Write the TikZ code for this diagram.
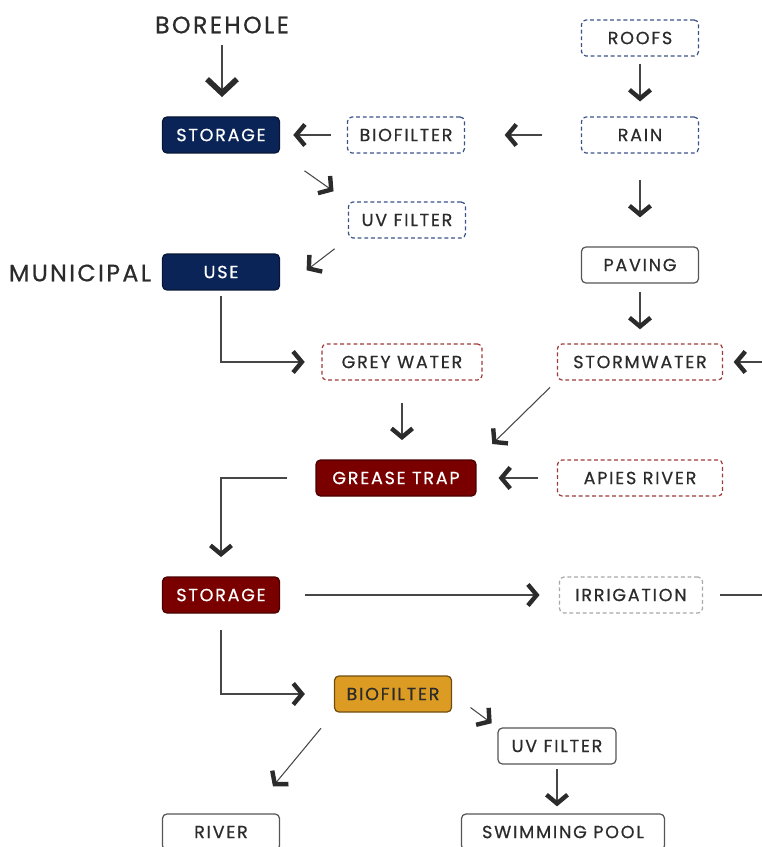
\documentclass[tikz,border=0pt]{standalone}
\usepackage{fontspec}
\setmainfont[LetterSpace=10, FakeBold=0.6]{Poppins}
\usepackage{xcolor}
\usepackage{tikz}
\usetikzlibrary{arrows.meta, positioning, calc}
\definecolor{mynavy}{RGB}{10,36,88}
\definecolor{myblue}{RGB}{58,82,136}
\definecolor{mywine}{RGB}{122,0,0}
\definecolor{myred}{RGB}{158,58,58}
\definecolor{myamber}{RGB}{220,155,34}
\definecolor{mygrey}{RGB}{168,168,168}
\definecolor{myplain}{RGB}{85,85,85}
\definecolor{mytext}{RGB}{43,43,43}
\definecolor{myshaft}{RGB}{70,70,70}
\tikzset{
  box/.style={rectangle, minimum width=2.34cm, minimum height=0.72cm,
    inner sep=0pt, rounded corners=2.5pt, line width=0.7pt, text=mytext,
    font=\fontsize{10pt}{12pt}\selectfont},
  navybox/.style={box, fill=mynavy, draw=mynavy!60!black, text=white},
  winebox/.style={box, fill=mywine, draw=mywine!60!black, text=white},
  amberbox/.style={box, fill=myamber, draw=myamber!50!black},
  bluebox/.style={box, draw=myblue, dash pattern=on 2.2pt off 1.6pt},
  redbox/.style={box, draw=myred, dash pattern=on 2.2pt off 1.6pt},
  greybox/.style={box, draw=mygrey, dash pattern=on 2.2pt off 1.6pt},
  plainbox/.style={box, draw=myplain},
  title/.style={text=mytext, font=\fontsize{13.5pt}{16pt}\selectfont},
  arrow/.style={draw=myshaft, line width=0.6pt,
    -{Straight Barb[length=5pt, width=12pt, line width=2.5pt, color=mytext]}},
  bigarrow/.style={draw=myshaft, line width=0.6pt,
    -{Straight Barb[length=8pt, width=17pt, line width=3.2pt, color=mytext]}},
  line/.style={draw=myshaft, line width=0.6pt}
}
\begin{document}
\begin{tikzpicture}[x=0.02cm, y=-0.02cm]
  \useasboundingbox (0,0) rectangle (761,847);

  % Nodes
  \node[title] (borehole) at (222,25) {BOREHOLE};
  \node[title] (municipal) at (80,273) {MUNICIPAL};
  \node[navybox] (store1) at (221,135) {STORAGE};
  \node[bluebox] (bio1) at (406,135) {BIOFILTER};
  \node[bluebox] (roofs) at (640,38) {ROOFS};
  \node[bluebox] (rain) at (640,135) {RAIN};
  \node[bluebox] (uv1) at (407,220) {UV FILTER};
  \node[navybox] (use) at (221,272) {USE};
  \node[plainbox] (paving) at (640,265) {PAVING};
  \node[redbox, minimum width=3.2cm] (grey) at (402,362) {GREY WATER};
  \node[redbox, minimum width=3.3cm] (storm) at (640,362) {STORMWATER};
  \node[winebox, minimum width=3.2cm] (grease) at (396,478) {GREASE TRAP};
  \node[redbox, minimum width=3.3cm] (apies) at (640,478) {APIES RIVER};
  \node[winebox] (store2) at (221,595) {STORAGE};
  \node[greybox, minimum width=2.86cm] (irrig) at (631,595) {IRRIGATION};
  \node[amberbox] (bio2) at (393,694) {BIOFILTER};
  \node[plainbox, minimum width=2.36cm] (uv2) at (557,746) {UV FILTER};
  \node[plainbox] (river) at (221,832) {RIVER};
  \node[plainbox, minimum width=4.06cm] (pool) at (563,832) {SWIMMING POOL};
  \coordinate (stormin) at (790,362);
  \coordinate (irrigout) at (790,595);

  % Paths
  \draw[bigarrow, shorten <=3pt, shorten >=11pt] (borehole.south) -- (borehole.south |- store1.north);
  \draw[arrow, shorten <=9pt, shorten >=7.5pt] (bio1.west) -- (store1.east);
  \draw[arrow, shorten <=22pt, shorten >=22.5pt] (rain.west) -- (bio1.east);
  \draw[arrow, shorten <=4pt, shorten >=8.5pt] (roofs) -- (rain);
  \draw[arrow, shorten <=15pt, shorten >=16.5pt] (rain) -- (paving);
  \draw[arrow, shorten <=4.5pt, shorten >=8pt] (paving) -- (storm);
  \draw[arrow, shorten <=17pt, shorten >=10pt] (store1.south east) -- (uv1.north west);
  \draw[arrow, shorten <=9.5pt, shorten >=19pt] (uv1.south west) -- (use.south east);
  \draw[arrow, shorten <=3pt, shorten >=9.5pt] (use.south) |- (grey.west);
  \draw[arrow, shorten <=13pt, shorten >=11pt] (grey.south) -- (grey.south |- grease.north);
  \draw[arrow, shorten <=5.5pt, shorten >=12.5pt] (storm.south west) -- (grease.north east);
  \draw[arrow, shorten >=6pt] (stormin) -- (storm.east);
  \draw[arrow, shorten <=11pt, shorten >=12.5pt] (apies.west) -- (grease.east);
  \draw[arrow, shorten <=16pt, shorten >=11pt] (grease.west) -| (store2.north);
  \draw[arrow, shorten <=14pt, shorten >=11pt] (store2.east) -- (irrig.west);
  \draw[line, shorten <=9.5pt] (irrig.east) -- (irrigout);
  \draw[arrow, shorten <=9.5pt, shorten >=16.5pt] (store2.south) |- (bio2.west);
  \draw[arrow, shorten <=13pt, shorten >=4pt] (bio2.east) -- (uv2.north west);
  \draw[arrow, shorten <=11.5pt, shorten >=20pt] (bio2.south west) -- ($(river.north)!0.5!(river.north east)$);
  \draw[arrow, shorten <=2.5pt, shorten >=4pt] (uv2.south) -- (uv2.south |- pool.north);

\end{tikzpicture}
\end{document}
